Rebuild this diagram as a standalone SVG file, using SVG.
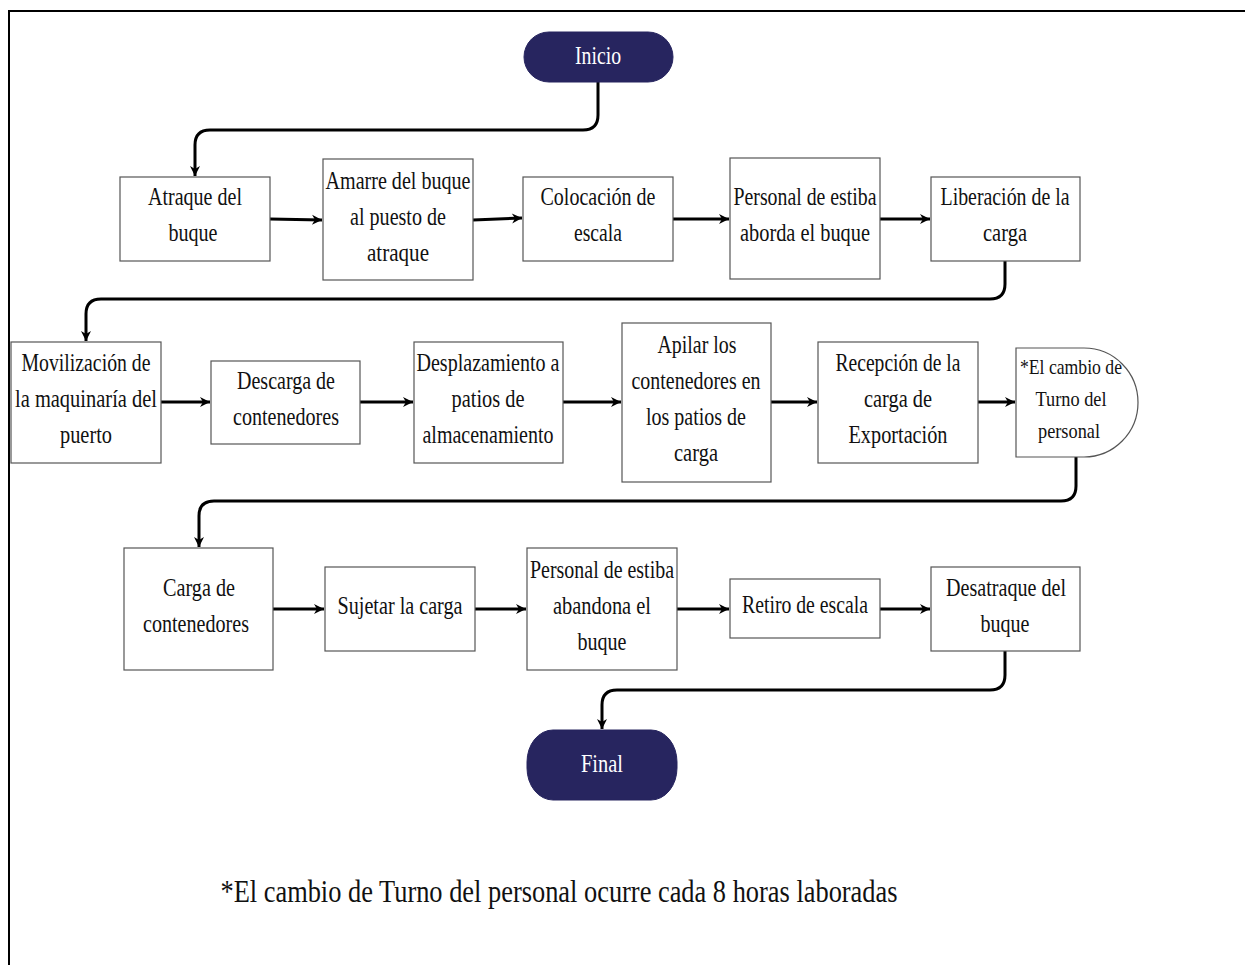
<svg xmlns="http://www.w3.org/2000/svg" width="1245" height="965" viewBox="0 0 1245 965">
<defs>
<style>
.box{fill:#fff;stroke:#555;stroke-width:1.2}
.term{fill:#27255f;stroke:#27255f}
.t{font-family:"Liberation Serif","DejaVu Serif",serif;font-size:26px;fill:#111;text-anchor:middle}
.ts{font-family:"Liberation Serif","DejaVu Serif",serif;font-size:22px;fill:#111;text-anchor:middle}
.tw{font-family:"Liberation Serif","DejaVu Serif",serif;font-size:26px;fill:#fff;text-anchor:middle}
.c{fill:none;stroke:#000;stroke-width:3}
</style>
<marker id="ah" viewBox="0 0 12 12" refX="11" refY="6" markerWidth="12" markerHeight="12" markerUnits="userSpaceOnUse" orient="auto">
<path d="M1,1 L11,6 L1,11 L4,6 Z" fill="#000"/>
</marker>
</defs>
<rect width="1245" height="965" fill="#fff"/>
<path d="M9,965 V11 H1245" fill="none" stroke="#000" stroke-width="2"/>

<g id="connectors">
<path class="c" d="M598,82 V115 Q598,130 583,130 H210 Q195,130 195,145 V176" marker-end="url(#ah)"/>
<path class="c" d="M270,219 L322,220" marker-end="url(#ah)"/>
<path class="c" d="M473,220 L522,218" marker-end="url(#ah)"/>
<path class="c" d="M673,219 H729" marker-end="url(#ah)"/>
<path class="c" d="M880,219 H930" marker-end="url(#ah)"/>
<path class="c" d="M1005,261 V284 Q1005,299 990,299 H101 Q86,299 86,314 V341" marker-end="url(#ah)"/>
<path class="c" d="M161,402 H210" marker-end="url(#ah)"/>
<path class="c" d="M360,402 H413" marker-end="url(#ah)"/>
<path class="c" d="M563,402 H621" marker-end="url(#ah)"/>
<path class="c" d="M771,402 H817" marker-end="url(#ah)"/>
<path class="c" d="M978,402 H1015" marker-end="url(#ah)"/>
<path class="c" d="M1076,457 V486 Q1076,501 1061,501 H214 Q199,501 199,516 V547" marker-end="url(#ah)"/>
<path class="c" d="M273,609 H324" marker-end="url(#ah)"/>
<path class="c" d="M475,609 H526" marker-end="url(#ah)"/>
<path class="c" d="M677,609 H729" marker-end="url(#ah)"/>
<path class="c" d="M880,609 H930" marker-end="url(#ah)"/>
<path class="c" d="M1005,651 V675 Q1005,690 990,690 H617 Q602,690 602,705 V729" marker-end="url(#ah)"/>
</g>

<g id="inicio">
<rect class="term" x="524" y="32" width="149" height="50" rx="25" ry="25"/>
<text class="tw" x="598" y="64" textLength="46" lengthAdjust="spacingAndGlyphs">Inicio</text>
</g>

<g id="atraque">
<rect class="box" x="120" y="177" width="150" height="84"/>
<text class="t" x="195" y="205" textLength="94" lengthAdjust="spacingAndGlyphs">Atraque del</text>
<text class="t" x="193" y="241" textLength="49" lengthAdjust="spacingAndGlyphs">buque</text>
</g>

<g id="amarre">
<rect class="box" x="323" y="159" width="150" height="121"/>
<text class="t" x="398" y="189" textLength="145" lengthAdjust="spacingAndGlyphs">Amarre del buque</text>
<text class="t" x="398" y="225" textLength="96" lengthAdjust="spacingAndGlyphs">al puesto de</text>
<text class="t" x="398" y="261" textLength="62" lengthAdjust="spacingAndGlyphs">atraque</text>
</g>

<g id="colocacion">
<rect class="box" x="523" y="177" width="150" height="84"/>
<text class="t" x="598" y="205" textLength="115" lengthAdjust="spacingAndGlyphs">Colocación de</text>
<text class="t" x="598" y="241" textLength="48" lengthAdjust="spacingAndGlyphs">escala</text>
</g>

<g id="personal-aborda">
<rect class="box" x="730" y="158" width="150" height="121"/>
<text class="t" x="805" y="205" textLength="143" lengthAdjust="spacingAndGlyphs">Personal de estiba</text>
<text class="t" x="805" y="241" textLength="130" lengthAdjust="spacingAndGlyphs">aborda el buque</text>
</g>

<g id="liberacion">
<rect class="box" x="931" y="177" width="149" height="84"/>
<text class="t" x="1005" y="205" textLength="129" lengthAdjust="spacingAndGlyphs">Liberación de la</text>
<text class="t" x="1005" y="241" textLength="44" lengthAdjust="spacingAndGlyphs">carga</text>
</g>

<g id="movilizacion">
<rect class="box" x="11" y="342" width="150" height="121"/>
<text class="t" x="86" y="371" textLength="129" lengthAdjust="spacingAndGlyphs">Movilización de</text>
<text class="t" x="86" y="407" textLength="142" lengthAdjust="spacingAndGlyphs">la maquinaría del</text>
<text class="t" x="86" y="443" textLength="52" lengthAdjust="spacingAndGlyphs">puerto</text>
</g>

<g id="descarga">
<rect class="box" x="211" y="361" width="149" height="83"/>
<text class="t" x="286" y="389" textLength="98" lengthAdjust="spacingAndGlyphs">Descarga de</text>
<text class="t" x="286" y="425" textLength="106" lengthAdjust="spacingAndGlyphs">contenedores</text>
</g>

<g id="desplazamiento">
<rect class="box" x="414" y="342" width="149" height="121"/>
<text class="t" x="488" y="371" textLength="143" lengthAdjust="spacingAndGlyphs">Desplazamiento a</text>
<text class="t" x="488" y="407" textLength="73" lengthAdjust="spacingAndGlyphs">patios de</text>
<text class="t" x="488" y="443" textLength="131" lengthAdjust="spacingAndGlyphs">almacenamiento</text>
</g>

<g id="apilar">
<rect class="box" x="622" y="323" width="149" height="159"/>
<text class="t" x="697" y="353" textLength="79" lengthAdjust="spacingAndGlyphs">Apilar los</text>
<text class="t" x="696" y="389" textLength="129" lengthAdjust="spacingAndGlyphs">contenedores en</text>
<text class="t" x="696" y="425" textLength="100" lengthAdjust="spacingAndGlyphs">los patios de</text>
<text class="t" x="696" y="461" textLength="44" lengthAdjust="spacingAndGlyphs">carga</text>
</g>

<g id="recepcion">
<rect class="box" x="818" y="342" width="160" height="121"/>
<text class="t" x="898" y="371" textLength="125" lengthAdjust="spacingAndGlyphs">Recepción de la</text>
<text class="t" x="898" y="407" textLength="68" lengthAdjust="spacingAndGlyphs">carga de</text>
<text class="t" x="898" y="443" textLength="99" lengthAdjust="spacingAndGlyphs">Exportación</text>
</g>

<g id="cambio-turno">
<path class="box" d="M1016,348 H1084 A54,54.5 0 0 1 1084,457 H1016 Z"/>
<text class="ts" x="1071" y="374" textLength="102" lengthAdjust="spacingAndGlyphs">*El cambio de</text>
<text class="ts" x="1071" y="406" textLength="71" lengthAdjust="spacingAndGlyphs">Turno del</text>
<text class="ts" x="1069" y="438" textLength="62" lengthAdjust="spacingAndGlyphs">personal</text>
</g>

<g id="carga-contenedores">
<rect class="box" x="124" y="548" width="149" height="122"/>
<text class="t" x="199" y="596" textLength="72" lengthAdjust="spacingAndGlyphs">Carga de</text>
<text class="t" x="196" y="632" textLength="106" lengthAdjust="spacingAndGlyphs">contenedores</text>
</g>

<g id="sujetar">
<rect class="box" x="325" y="567" width="150" height="84"/>
<text class="t" x="400" y="614" textLength="125" lengthAdjust="spacingAndGlyphs">Sujetar la carga</text>
</g>

<g id="personal-abandona">
<rect class="box" x="527" y="548" width="150" height="122"/>
<text class="t" x="602" y="578" textLength="144" lengthAdjust="spacingAndGlyphs">Personal de estiba</text>
<text class="t" x="602" y="614" textLength="98" lengthAdjust="spacingAndGlyphs">abandona el</text>
<text class="t" x="602" y="650" textLength="49" lengthAdjust="spacingAndGlyphs">buque</text>
</g>

<g id="retiro">
<rect class="box" x="730" y="579" width="150" height="59"/>
<text class="t" x="805" y="613" textLength="126" lengthAdjust="spacingAndGlyphs">Retiro de escala</text>
</g>

<g id="desatraque">
<rect class="box" x="931" y="567" width="149" height="84"/>
<text class="t" x="1006" y="596" textLength="120" lengthAdjust="spacingAndGlyphs">Desatraque del</text>
<text class="t" x="1005" y="632" textLength="49" lengthAdjust="spacingAndGlyphs">buque</text>
</g>

<g id="final">
<rect class="term" x="527" y="730" width="150" height="70" rx="26" ry="32"/>
<text class="tw" x="602" y="772" textLength="42" lengthAdjust="spacingAndGlyphs">Final</text>
</g>

<text x="559" y="902" font-family="'Liberation Serif','DejaVu Serif',serif" font-size="31" fill="#111" text-anchor="middle" textLength="677" lengthAdjust="spacingAndGlyphs">*El cambio de Turno del personal ocurre cada 8 horas laboradas</text>
</svg>
